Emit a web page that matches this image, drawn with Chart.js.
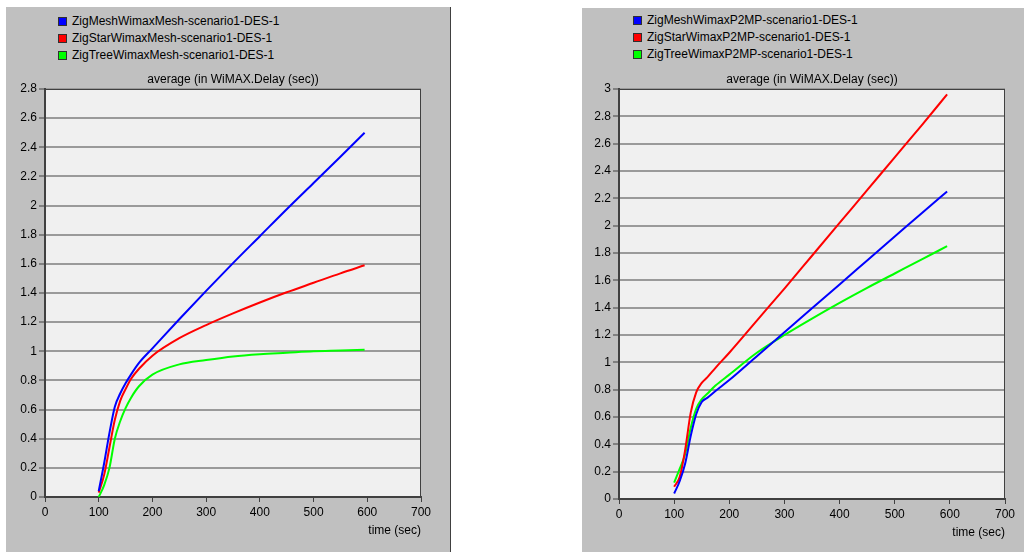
<!DOCTYPE html>
<html>
<head>
<meta charset="utf-8">
<script src="https://cdn.jsdelivr.net/npm/chart.js@4.4.1/dist/chart.umd.min.js"></script>
<style>
  body { margin: 0; background: #fff; width: 1024px; height: 552px; overflow: hidden; position: relative;
         font-family: "Liberation Sans", Arial, sans-serif; }
  .panel { position: absolute; background: #c0c0c0; }
  #p1 { left: 6px; top: 7px; width: 444px; height: 545px; border-right: 1px solid #404040; }
  #p2 { left: 582px; top: 8px; width: 442px; height: 544px; }
  .panel canvas { position: absolute; left: 0; top: 0; }
  .legend { position: absolute; font-size: 12px; color: #000; }
  .legend div { height: 17px; line-height: 17px; white-space: nowrap; }
  .legend span { display: inline-block; width: 7px; height: 7px; border: 1px solid #303030;
                 margin-right: 5px; vertical-align: -1px; }
</style>
</head>
<body>
<div class="panel" id="p1">
  <div class="legend" id="leg1" style="left:52px; top:6px;"></div>
  <canvas id="c1" width="444" height="545"></canvas>
</div>
<div class="panel" id="p2">
  <div class="legend" id="leg2" style="left:51px; top:4px;"></div>
  <canvas id="c2" width="442" height="544"></canvas>
</div>
<script>
// sample times (sec)
var times = [100, 110, 120, 130, 140, 150, 160, 175, 200, 250, 300, 350, 400, 450, 500, 550, 595];

// left panel: WiMAX Mesh
var meshLabels = ['ZigMeshWimaxMesh-scenario1-DES-1', 'ZigStarWimaxMesh-scenario1-DES-1', 'ZigTreeWimaxMesh-scenario1-DES-1'];
var meshZigMesh = [0.04, 0.23, 0.44, 0.62, 0.71, 0.78, 0.84, 0.92, 1.02, 1.22, 1.415, 1.605, 1.79, 1.975, 2.155, 2.335, 2.50];
var meshZigStar = [0.03, 0.15, 0.34, 0.53, 0.66, 0.74, 0.81, 0.88, 0.97, 1.09, 1.18, 1.26, 1.335, 1.405, 1.47, 1.535, 1.59];
var meshZigTree = [0.00, 0.08, 0.20, 0.40, 0.52, 0.61, 0.68, 0.76, 0.84, 0.91, 0.94, 0.965, 0.98, 0.99, 1.00, 1.005, 1.01];

// right panel: WiMAX P2MP
var p2mpLabels = ['ZigMeshWimaxP2MP-scenario1-DES-1', 'ZigStarWimaxP2MP-scenario1-DES-1', 'ZigTreeWimaxP2MP-scenario1-DES-1'];
var p2mpZigMesh = [0.04, 0.13, 0.26, 0.46, 0.62, 0.71, 0.74, 0.79, 0.87, 1.045, 1.22, 1.395, 1.57, 1.745, 1.92, 2.095, 2.25];
var p2mpZigStar = [0.09, 0.16, 0.36, 0.63, 0.78, 0.85, 0.89, 0.96, 1.07, 1.305, 1.54, 1.78, 2.02, 2.26, 2.50, 2.74, 2.96];
var p2mpZigTree = [0.12, 0.22, 0.33, 0.52, 0.66, 0.73, 0.77, 0.83, 0.91, 1.07, 1.20, 1.32, 1.435, 1.545, 1.65, 1.755, 1.85];

var colors = ['#0000ff', '#ff0000', '#00ff00'];

var chartTitle = 'average (in WiMAX.Delay (sec))';
var xTitle = 'time (sec)';

Chart.defaults.font.family = '"Liberation Sans", Arial, sans-serif';
Chart.defaults.font.size = 12;
Chart.defaults.color = '#000';

var plotFrame = {
  id: 'plotFrame',
  beforeDraw: function(chart) {
    var a = chart.chartArea, ctx = chart.ctx;
    ctx.save();
    ctx.fillStyle = '#f0f0f0';
    ctx.fillRect(a.left, a.top, a.right - a.left, a.bottom - a.top);
    ctx.restore();
  },
  beforeDatasetsDraw: function(chart) {
    var a = chart.chartArea, ctx = chart.ctx;
    ctx.save();
    ctx.strokeStyle = '#404040';
    ctx.lineWidth = 1;
    ctx.strokeRect(a.left + 0.5, a.top + 0.5, a.right - a.left - 1, a.bottom - a.top);
    ctx.restore();
  }
};

function points(values) {
  return values.map(function(v, i) { return {x: times[i], y: v}; });
}

function buildLegend(id, labels) {
  var el = document.getElementById(id);
  labels.forEach(function(label, i) {
    var row = document.createElement('div');
    var box = document.createElement('span');
    box.style.background = colors[i];
    row.appendChild(box);
    row.appendChild(document.createTextNode(label));
    el.appendChild(row);
  });
}

function makeChart(canvasId, labels, series, yMax, yWidth, pad) {
  var ctx = document.getElementById(canvasId);
  return new Chart(ctx, {
    type: 'line',
    data: {
      datasets: series.map(function(values, i) {
        return {
          label: labels[i],
          data: points(values),
          borderColor: colors[i],
          backgroundColor: colors[i],
          borderWidth: 2,
          pointRadius: 0,
          tension: 0.4,
          cubicInterpolationMode: 'monotone'
        };
      })
    },
    options: {
      responsive: false,
      animation: false,
      layout: { padding: pad },
      plugins: {
        legend: { display: false },
        tooltip: { enabled: false },
        title: {
          display: true,
          text: chartTitle,
          fullSize: false,
          color: '#000',
          font: { size: 12, weight: 'normal' },
          padding: { top: 0, bottom: 2 }
        }
      },
      scales: {
        x: {
          type: 'linear',
          min: 0,
          max: 700,
          ticks: { stepSize: 100, padding: 3, maxRotation: 0, color: '#000' },
          grid: { drawOnChartArea: false, drawTicks: true, tickLength: 5, tickColor: '#404040' },
          border: { color: '#404040', width: 2 },
          title: { display: true, text: xTitle, align: 'end', color: '#000', padding: { top: 4, bottom: 4 } },
          afterFit: function(scale) { scale.height = 45; }
        },
        y: {
          min: 0,
          max: yMax,
          ticks: {
            stepSize: 0.2, padding: 2, color: '#000',
            callback: function(v) { return String(Math.round(v * 10) / 10); }
          },
          grid: { color: '#9a9a9a', lineWidth: 2, tickLength: 6, tickColor: '#404040', tickWidth: 1 },
          border: { color: '#404040', width: 2 },
          afterFit: function(scale) { scale.width = yWidth; }
        }
      }
    },
    plugins: [plotFrame]
  });
}

buildLegend('leg1', meshLabels);
buildLegend('leg2', p2mpLabels);

makeChart('c1', meshLabels, [meshZigMesh, meshZigStar, meshZigTree], 2.8, 39,
  { top: 65.6, right: 29, bottom: 10, left: 0 });
makeChart('c2', p2mpLabels, [p2mpZigMesh, p2mpZigStar, p2mpZigTree], 3, 37,
  { top: 64.6, right: 19, bottom: 8, left: 0 });
</script>
</body>
</html>
